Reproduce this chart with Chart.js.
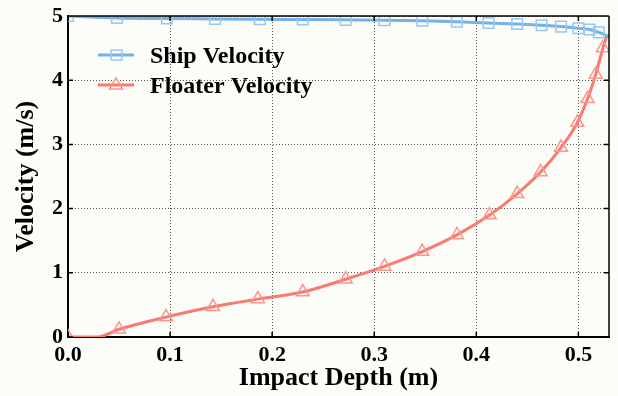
<!DOCTYPE html>
<html><head><meta charset="utf-8">
<script src="https://cdn.jsdelivr.net/npm/chart.js@4"></script>
<style>html,body{margin:0;padding:0;background:#fcfcf8;}#wrap{width:618px;height:396px;}</style>
</head><body><div id="wrap"><canvas id="c" width="618" height="396"></canvas></div>
<script>
const shipDepth = [0.0, 0.048, 0.097, 0.144, 0.188, 0.23, 0.272, 0.31, 0.347, 0.381, 0.412, 0.44, 0.464, 0.483, 0.5, 0.511, 0.52, 0.53];
const shipVel   = [5.0, 4.97, 4.96, 4.955, 4.95, 4.945, 4.94, 4.935, 4.925, 4.91, 4.89, 4.875, 4.855, 4.835, 4.81, 4.79, 4.745, 4.68];
const shipMarker = [1,1,1,1,1,1,1,1,1,1,1,1,1,1,1,1,1,0];
const floaterDepth = [0.0, 0.029, 0.05, 0.096, 0.142, 0.186, 0.23, 0.272, 0.31, 0.347, 0.381, 0.413, 0.44, 0.463, 0.483, 0.499, 0.509, 0.517, 0.524, 0.528];
const floaterVel   = [0.0, 0.0, 0.12, 0.31, 0.47, 0.59, 0.70, 0.90, 1.10, 1.33, 1.59, 1.90, 2.23, 2.57, 2.95, 3.34, 3.71, 4.09, 4.50, 4.70];
const floaterMarker = [1,0,1,1,1,1,1,1,1,1,1,1,1,1,1,1,1,1,1,0];
const seriesNames = ['Ship Velocity', 'Floater Velocity'];
const xTitle = 'Impact Depth (m)';
const yTitle = 'Velocity (m/s)';
const xMin = 0, xMax = 0.53, xStep = 0.1;
const yMin = 0, yMax = 5, yStep = 1;

const FONT = "'Liberation Serif', 'Times New Roman', serif";
const shipLine = 'rgb(118,178,234)', shipPt = 'rgb(150,200,242)';
const flLine = 'rgb(248,122,112)', flPt = 'rgb(250,150,140)';

const pts = (xs, ys) => xs.map((x, i) => ({x, y: ys[i]}));

const innerTicks = {
  id: 'innerTicks',
  afterDraw(chart) {
    const ctx = chart.ctx, a = chart.chartArea;
    const xs = chart.scales.x, ys = chart.scales.y;
    ctx.save();
    ctx.strokeStyle = '#000';
    ctx.lineWidth = 1.5;
    ctx.beginPath();
    ctx.moveTo(a.right, a.top); ctx.lineTo(a.right, a.bottom);
    ctx.moveTo(a.left, a.top); ctx.lineTo(a.right, a.top);
    xs.ticks.forEach(t => {
      const p = xs.getPixelForValue(t.value);
      ctx.moveTo(p, a.bottom); ctx.lineTo(p, a.bottom - 5);
      ctx.moveTo(p, a.top); ctx.lineTo(p, a.top + 5);
    });
    ys.ticks.forEach(t => {
      const p = ys.getPixelForValue(t.value);
      ctx.moveTo(a.left, p); ctx.lineTo(a.left + 5, p);
      ctx.moveTo(a.right, p); ctx.lineTo(a.right - 5, p);
    });
    ctx.stroke();
    ctx.restore();
  }
};

const legendPlugin = {
  id: 'customLegend',
  afterDraw(chart) {
    const ctx = chart.ctx;
    ctx.save();
    const items = [
      {y: 55, line: shipLine, pt: shipPt, shape: 'rect', text: seriesNames[0], base: 63},
      {y: 85, line: flLine, pt: flPt, shape: 'tri', text: seriesNames[1], base: 93}
    ];
    items.forEach(it => {
      ctx.strokeStyle = it.line; ctx.lineWidth = 3;
      ctx.beginPath(); ctx.moveTo(98, it.y); ctx.lineTo(134, it.y); ctx.stroke();
      ctx.strokeStyle = it.pt; ctx.lineWidth = 1.5;
      ctx.beginPath();
      if (it.shape === 'rect') { ctx.rect(111, it.y - 5, 11, 10); }
      else { ctx.moveTo(116, it.y - 7); ctx.lineTo(122.5, it.y + 4); ctx.lineTo(109.5, it.y + 4); ctx.closePath(); }
      ctx.stroke();
      ctx.fillStyle = '#000';
      ctx.font = "bold 24px " + FONT;
      ctx.textBaseline = 'alphabetic';
      ctx.fillText(it.text, 150, it.base);
    });
    ctx.restore();
  }
};

const bg = {
  id: 'bg',
  beforeDraw(chart) {
    const ctx = chart.ctx;
    ctx.save(); ctx.fillStyle = '#fcfcf8'; ctx.fillRect(0, 0, chart.width, chart.height); ctx.restore();
  }
};

new Chart(document.getElementById('c'), {
  type: 'line',
  data: {
    datasets: [
      {
        label: seriesNames[0], data: pts(shipDepth, shipVel),
        borderColor: shipLine, borderWidth: 3, cubicInterpolationMode: 'monotone',
        pointStyle: 'rect', pointRadius: shipMarker.map(m => m ? 7.5 : 0),
        pointBorderColor: shipPt, pointBackgroundColor: 'rgba(0,0,0,0)', pointBorderWidth: 1.5,
        fill: false
      },
      {
        label: seriesNames[1], data: pts(floaterDepth, floaterVel),
        borderColor: flLine, borderWidth: 3, cubicInterpolationMode: 'monotone',
        pointStyle: 'triangle', pointRadius: floaterMarker.map(m => m ? 7.5 : 0),
        pointBorderColor: flPt, pointBackgroundColor: 'rgba(0,0,0,0)', pointBorderWidth: 1.5,
        fill: false
      }
    ]
  },
  options: {
    responsive: false, animation: false, devicePixelRatio: 1,
    layout: {padding: {top: 10, right: 7, left: 0, bottom: 0}},
    plugins: {legend: {display: false}, tooltip: {enabled: false}},
    scales: {
      x: {
        type: 'linear', min: xMin, max: xMax,
        ticks: {stepSize: xStep, includeBounds: false, autoSkip: false, maxRotation: 0,
          callback: v => v.toFixed(1), color: '#000', padding: 7,
          font: {family: FONT, size: 22, weight: 'bold', lineHeight: 1}},
        grid: {color: 'rgba(40,40,40,0.8)', lineWidth: 1, drawTicks: false},
        border: {color: '#000', width: 2, dash: [1, 2]},
        title: {display: true, text: xTitle, color: '#000', padding: {top: 0, bottom: 2},
          font: {family: FONT, size: 26, weight: 'bold'}},
        afterFit: s => { s.height = 59; }
      },
      y: {
        type: 'linear', min: yMin, max: yMax,
        ticks: {stepSize: yStep, includeBounds: false, color: '#000', padding: 5,
          font: {family: FONT, size: 22, weight: 'bold', lineHeight: 1}},
        grid: {color: 'rgba(40,40,40,0.8)', lineWidth: 1, drawTicks: false},
        border: {color: '#000', width: 2, dash: [1, 2]},
        title: {display: true, text: yTitle, color: '#000', padding: {top: 11, bottom: 0},
          font: {family: FONT, size: 26, weight: 'bold'}},
        afterFit: s => { s.width = 68; }
      }
    }
  },
  plugins: [bg, innerTicks, legendPlugin]
});
</script></body></html>
